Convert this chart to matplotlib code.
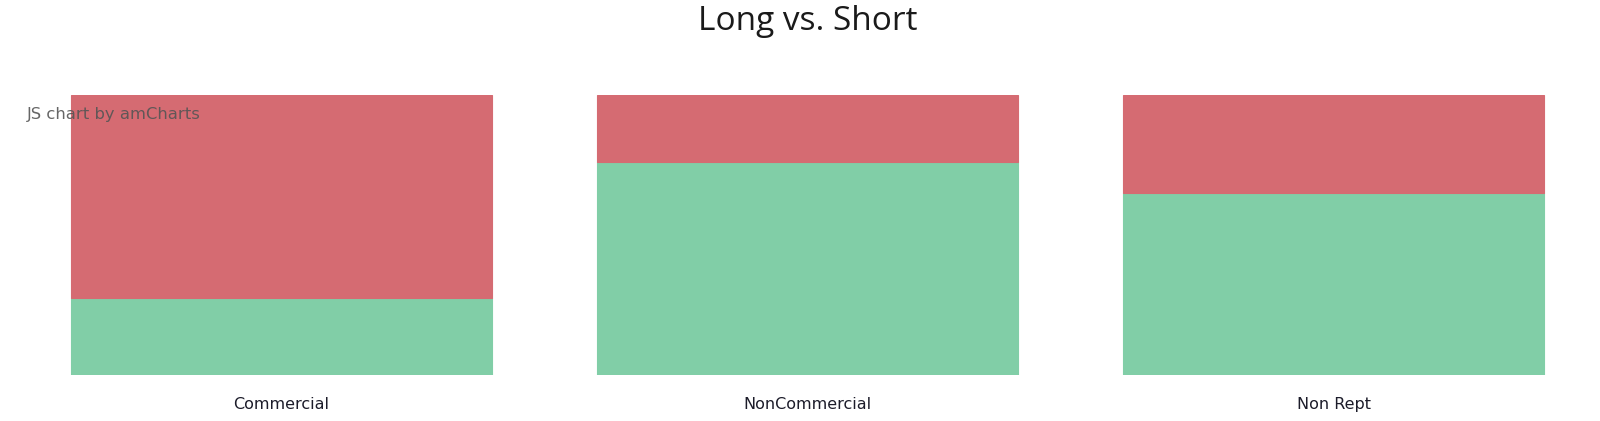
import matplotlib.pyplot as plt
import numpy as np

# 100% stacked columns: long (green) below, short (red) on top
categories = ['Commercial', 'NonCommercial', 'Non Rept']
long_pct = [27.6, 76.1, 65.0]
short_pct = [72.4, 23.9, 35.0]

green = '#81CEA7'
red = '#D56B72'

fig = plt.figure(figsize=(16, 4.21), dpi=100)
ax = fig.add_axes([0.0115, 0.1093, 0.9865, 0.6657])

x = np.arange(len(categories))
ax.bar(x, long_pct, width=0.8, color=green, edgecolor=green, linewidth=0.8)
ax.bar(x, short_pct, width=0.8, bottom=long_pct, color=red, edgecolor=red, linewidth=0.8)

ax.set_xlim(-0.5, len(categories) - 0.5)
ax.set_ylim(0, 100)
ax.set_xticks(x)
ax.set_xticklabels(categories, fontsize=11.5, color='#1c1c2a', family='DejaVu Sans')
ax.tick_params(axis='x', length=0, pad=16)
ax.set_yticks([])
for s in ax.spines.values():
    s.set_visible(False)

fig.text(0.505, 0.948, 'Long vs. Short', ha='center', va='center',
         fontsize=24, family='Open Sans', color='#1a1a1a')
fig.text(0.017, 0.728, 'JS chart by amCharts', ha='left', va='center',
         fontsize=11.8, color='#555555', alpha=0.9, family='DejaVu Sans')

plt.savefig('out.png', dpi=100)
